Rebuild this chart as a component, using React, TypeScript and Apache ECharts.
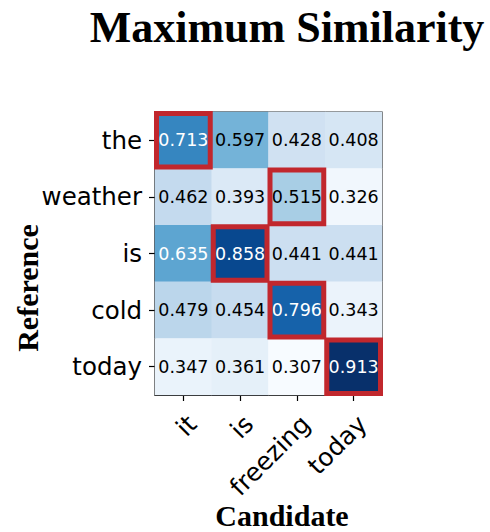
import React, { useEffect, useRef } from 'react';
import * as echarts from 'echarts';

const candidates = ['it', 'is', 'freezing', 'today'];
const references = ['the', 'weather', 'is', 'cold', 'today'];
const similarity = [
  [0.713, 0.597, 0.428, 0.408],
  [0.462, 0.393, 0.515, 0.326],
  [0.635, 0.858, 0.441, 0.441],
  [0.479, 0.454, 0.796, 0.343],
  [0.347, 0.361, 0.307, 0.913],
];
const blues = ['#f7fbff', '#deebf7', '#c6dbef', '#9ecae1', '#6baed6', '#4292c6', '#2171b5', '#08519c', '#08306b'];

export default function App() {
  const ref = useRef<HTMLDivElement>(null);
  useEffect(() => {
    if (!ref.current) return;
    const chart = echarts.init(ref.current, null, { renderer: 'svg' });
    const flat = similarity.flat();
    const vmin = Math.min(...flat);
    const vmax = Math.max(...flat);
    const cells: any[] = [];
    similarity.forEach((row, r) => {
      row.forEach((v, c) => {
        cells.push({ value: [c, r, v], label: { color: v > 0.62 ? '#ffffff' : '#000000' } });
      });
    });
    const maxCells = similarity.map((row, r) => {
      const c = row.indexOf(Math.max(...row));
      return [c, r, row[c]];
    });
    const font = 'DejaVu Sans';
    chart.setOption({
      animation: false,
      backgroundColor: '#ffffff',
      grid: { left: 155, top: 112, width: 227, height: 283, show: true, borderColor: '#000', borderWidth: 1.2, backgroundColor: 'transparent' },
      xAxis: {
        type: 'category',
        data: candidates,
        axisLine: { show: true, lineStyle: { color: '#000', width: 1.2 } },
        axisTick: { show: true, alignWithLabel: true, length: 6, lineStyle: { color: '#000', width: 1.2 } },
        axisLabel: { rotate: 45, align: 'right', verticalAlign: 'top', margin: 16, fontSize: 25, fontFamily: font, color: '#000' },
        splitLine: { show: false },
      },
      yAxis: {
        type: 'category',
        data: references,
        inverse: true,
        axisLine: { show: true, lineStyle: { color: '#000', width: 1.2 } },
        axisTick: { show: true, alignWithLabel: true, length: 6, lineStyle: { color: '#000', width: 1.2 } },
        axisLabel: { margin: 13, fontSize: 24.5, fontFamily: font, color: '#000' },
        splitLine: { show: false },
      },
      visualMap: {
        show: false,
        min: vmin,
        max: vmax,
        dimension: 2,
        seriesIndex: 0,
        inRange: { color: blues },
      },
      graphic: [
        {
          type: 'text',
          x: 287,
          y: 27,
          style: { text: 'Maximum Similarity', font: 'bold 44px "Liberation Serif"', fill: '#000', align: 'center', verticalAlign: 'middle' },
        },
        {
          type: 'text',
          x: 282,
          y: 515,
          style: { text: 'Candidate', font: 'bold 30px "Liberation Serif"', fill: '#000', align: 'center', verticalAlign: 'middle' },
        },
        {
          type: 'text',
          x: 27,
          y: 288,
          rotation: Math.PI / 2,
          style: { text: 'Reference', font: 'bold 30px "Liberation Serif"', fill: '#000', align: 'center', verticalAlign: 'middle' },
        },
      ],
      series: [
        {
          type: 'heatmap',
          data: cells,
          label: { show: true, fontSize: 17.5, fontFamily: font, formatter: (p: any) => p.value[2].toFixed(3) },
          itemStyle: { borderWidth: 0 },
          emphasis: { disabled: true },
        },
        {
          type: 'custom',
          data: maxCells,
          z: 10,
          renderItem: (params: any, api: any) => {
            const p = api.coord([api.value(0), api.value(1)]);
            const s = api.size([1, 1]);
            const inset = 1.5;
            return {
              type: 'rect',
              shape: { x: p[0] - s[0] / 2 + inset, y: p[1] - s[1] / 2 + inset, width: s[0] - 2 * inset, height: s[1] - 2 * inset },
              style: { fill: 'none', stroke: '#c1272d', lineWidth: 5 },
            };
          },
        },
      ],
    });
    return () => chart.dispose();
  }, []);
  return <div ref={ref} style={{ position: 'fixed', left: 0, top: 0, width: 490, height: 532, background: '#fff' }} />;
}
